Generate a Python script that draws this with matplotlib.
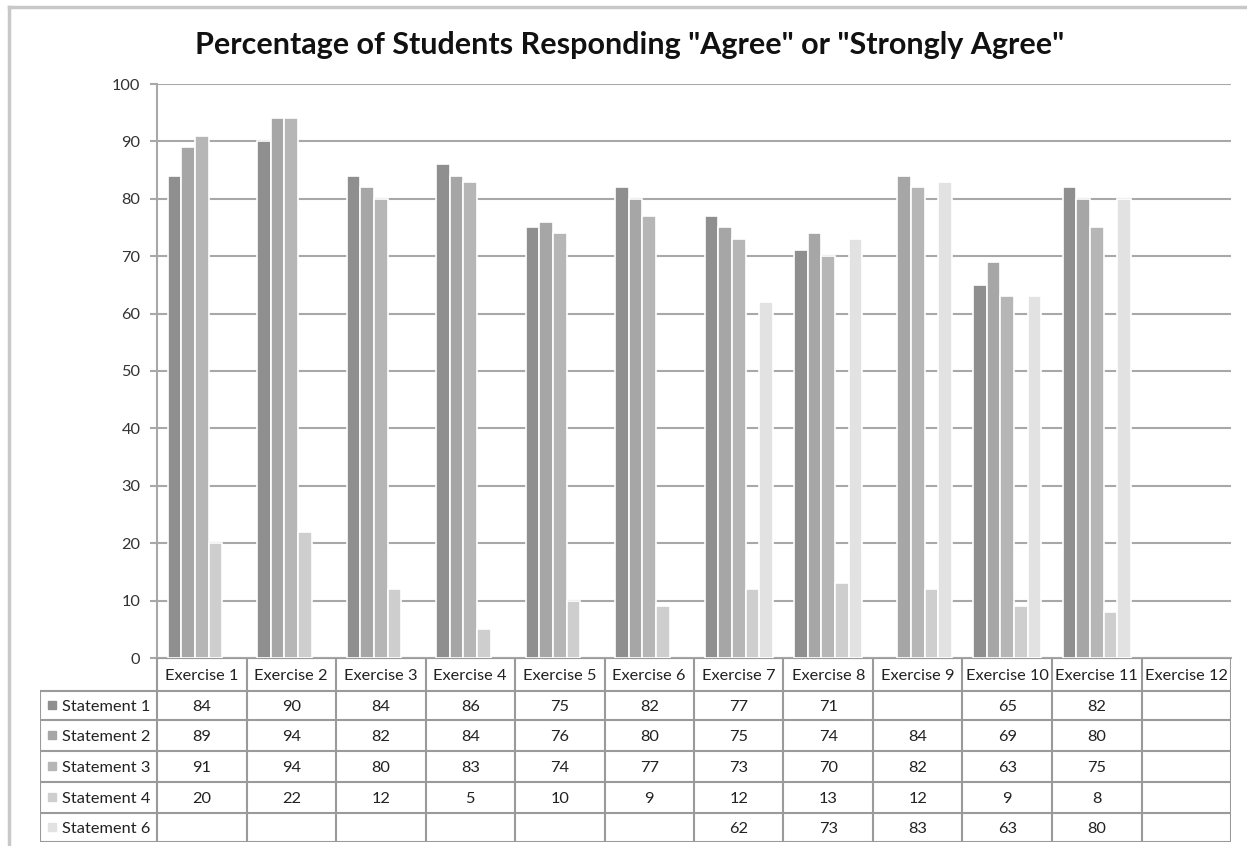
import numpy as np
import matplotlib.pyplot as plt
from matplotlib.lines import Line2D

exercises = ["Exercise %d" % i for i in range(1, 13)]
series_names = ["Statement 1", "Statement 2", "Statement 3", "Statement 4", "Statement 6"]
statement1 = [84, 90, 84, 86, 75, 82, 77, 71, None, 65, 82, None]
statement2 = [89, 94, 82, 84, 76, 80, 75, 74, 84, 69, 80, None]
statement3 = [91, 94, 80, 83, 74, 77, 73, 70, 82, 63, 75, None]
statement4 = [20, 22, 12, 5, 10, 9, 12, 13, 12, 9, 8, None]
statement6 = [None, None, None, None, None, None, 62, 73, 83, 63, 80, None]
series = [statement1, statement2, statement3, statement4, statement6]
colors = ["#8f8f8f", "#a6a6a6", "#b6b6b6", "#cecece", "#e2e2e2"]

plt.rcParams['font.family'] = ['Lato', 'DejaVu Sans']

W, H = 1247, 846
fig = plt.figure(figsize=(W / 100, H / 100), dpi=100)

# outer frame
fig.add_artist(Line2D([9 / W, 9 / W], [0, 1 - 7 / H], color="#c8c8c8", lw=2.5))
fig.add_artist(Line2D([9 / W, 1], [1 - 7 / H, 1 - 7 / H], color="#c8c8c8", lw=2.5))

x0, x1 = 157, 1231
y_top, y_bot = 84, 658
ax = fig.add_axes([x0 / W, 1 - y_bot / H, (x1 - x0) / W, (y_bot - y_top) / H])

n = len(exercises)
x = np.arange(n)
bw = 0.153
for i, (vals, c) in enumerate(zip(series, colors)):
    xs = [xi + (i - 2) * bw for xi, v in zip(x, vals) if v is not None]
    hs = [v for v in vals if v is not None]
    ax.bar(xs, hs, width=bw, color=c, edgecolor="white", linewidth=1.2, zorder=3)

ax.set_xlim(-0.5, n - 0.5)
ax.set_ylim(0, 100)
ax.set_yticks(range(0, 101, 10))
ax.yaxis.grid(True, color="#a8a8a8", lw=1.5, zorder=0)
ax.set_xticks([])
for s in ["top", "right"]:
    ax.spines[s].set_visible(False)
for s in ["left", "bottom"]:
    ax.spines[s].set_color("#a8a8a8")
    ax.spines[s].set_linewidth(1.5)
ax.tick_params(axis="y", length=5, width=1.5, color="#a8a8a8", labelsize=11.8,
               labelcolor="#333333", pad=7)

fig.text(630 / W, 1 - 45 / H, 'Percentage of Students Responding "Agree" or "Strongly Agree"',
         ha="center", va="center", fontsize=22, fontweight="bold", color="#111111")

# data table
unit = (x1 - x0) / n
lab_left = 40
t_top, t_bot = 658, 842
tax = fig.add_axes([lab_left / W, 1 - t_bot / H, (x1 - lab_left) / W, (t_bot - t_top) / H])
tax.set_xlim(-0.5 - (x0 - lab_left) / unit, n - 0.5)
row_edges_px = [658, 691, 720, 751, 782, 813, 842]
tax.set_ylim(t_bot, t_top)
tax.axis("off")
lc = "#9a9a9a"
lab_x = -0.5 - (x0 - lab_left) / unit
# horizontal lines
tax.plot([-0.5, n - 0.5], [row_edges_px[0]] * 2, color=lc, lw=1.5)
for yy in row_edges_px[1:]:
    tax.plot([lab_x, n - 0.5], [yy, yy], color=lc, lw=1.5)
# vertical lines
for k in range(n + 1):
    tax.plot([k - 0.5, k - 0.5], [row_edges_px[0], row_edges_px[-1]], color=lc, lw=1.5)
tax.plot([lab_x, lab_x], [row_edges_px[1], row_edges_px[-1]], color=lc, lw=1.5)

fs = 11.8
hdr_y = (row_edges_px[0] + row_edges_px[1]) / 2 + 1
for k, name in enumerate(exercises):
    tax.text(k, hdr_y, name, ha="center", va="center", fontsize=fs, color="#222222")
for r, (name, vals, c) in enumerate(zip(series_names, series, colors)):
    yy = (row_edges_px[r + 1] + row_edges_px[r + 2]) / 2 + 1
    tax.plot([lab_x + 11.5 / unit], [yy - 2], marker="s", ms=5.5, color=c, ls="none")
    tax.text(lab_x + 22 / unit, yy, name, ha="left", va="center", fontsize=fs, color="#222222")
    for k, v in enumerate(vals):
        if v is not None:
            tax.text(k, yy, str(v), ha="center", va="center", fontsize=fs, color="#222222")

fig.savefig("out.png", dpi=100)
